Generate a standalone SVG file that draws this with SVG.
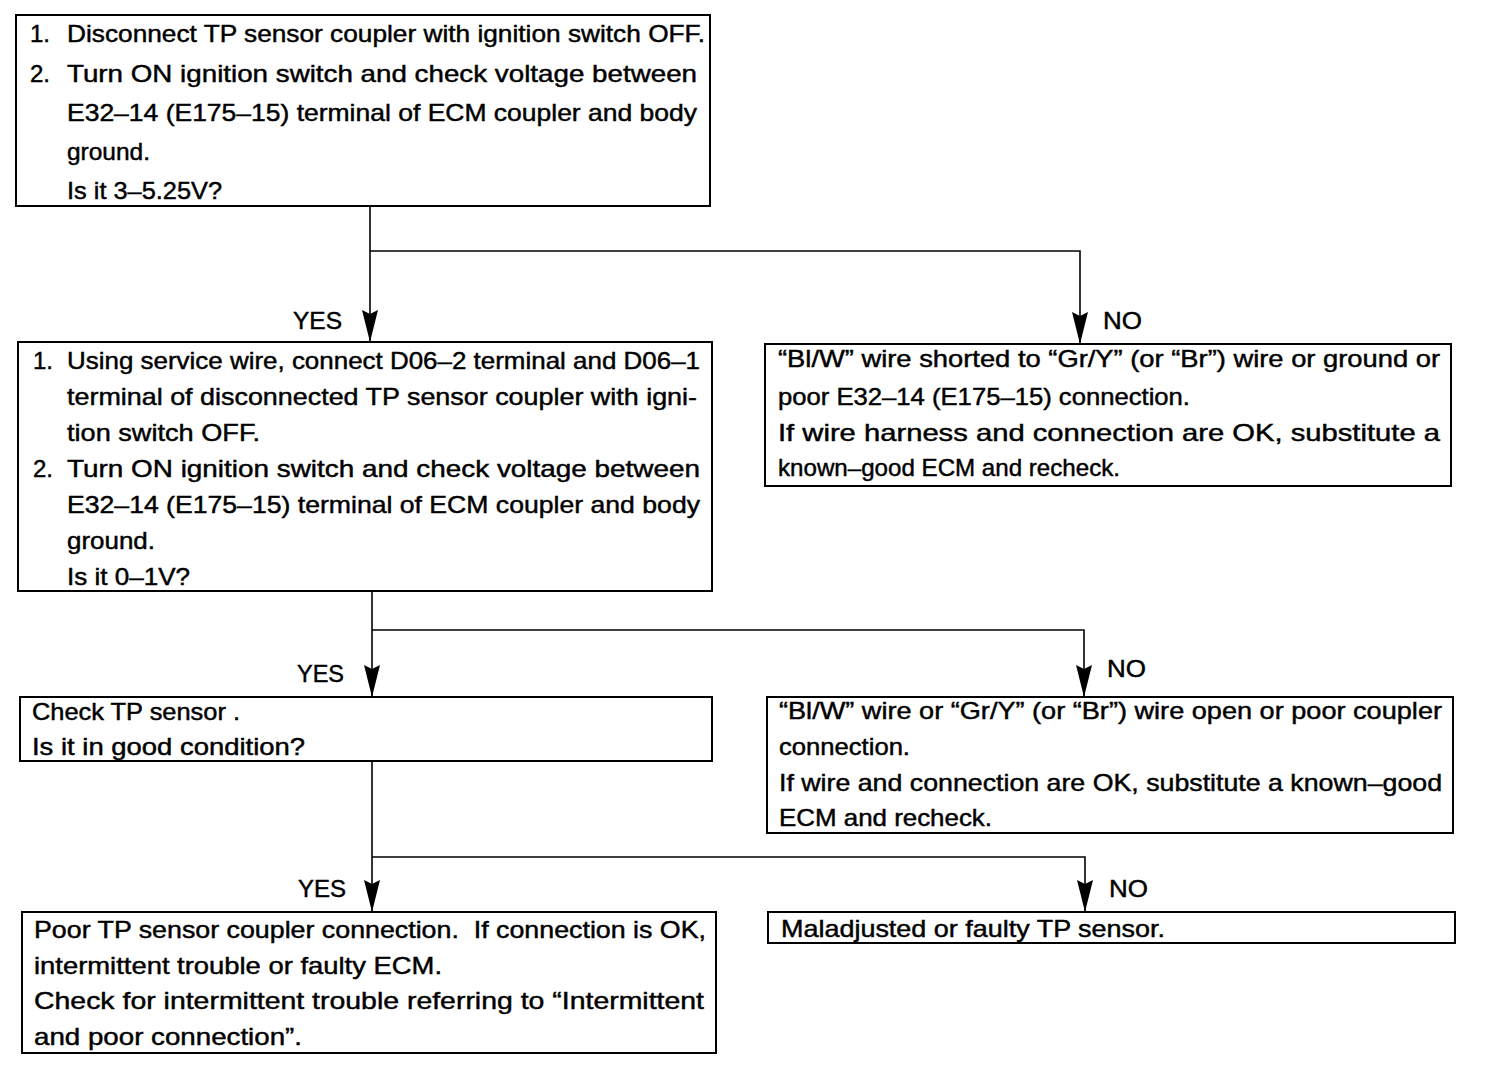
<svg xmlns="http://www.w3.org/2000/svg" width="1504" height="1070" viewBox="0 0 1504 1070">
<style>
rect.box{fill:#fff;stroke:#000;stroke-width:2}
text{font-family:"Liberation Sans",Arial,sans-serif;font-size:24px;fill:#000;stroke:#000;stroke-width:0.45}
.conn{fill:none;stroke:#000;stroke-width:1.6}
</style>
<defs>
<marker id="arr" viewBox="0 0 32 16" refX="32" refY="8" markerWidth="32" markerHeight="16" markerUnits="userSpaceOnUse" orient="auto">
<path d="M0,0 L32,8 L0,16 L4,8 Z" fill="#000"/>
</marker>
</defs>
<rect width="1504" height="1070" fill="#fff"/>

<g id="connectors">
<path class="conn" d="M370,206 V342" marker-end="url(#arr)"/>
<path class="conn" d="M370,251 H1080 V344" marker-end="url(#arr)"/>
<path class="conn" d="M372,591 V697" marker-end="url(#arr)"/>
<path class="conn" d="M372,630 H1084 V697" marker-end="url(#arr)"/>
<path class="conn" d="M372,761 V912" marker-end="url(#arr)"/>
<path class="conn" d="M372,857 H1085 V912" marker-end="url(#arr)"/>
<text x="293" y="329" textLength="49" lengthAdjust="spacingAndGlyphs">YES</text>
<text x="1103" y="329" textLength="39" lengthAdjust="spacingAndGlyphs">NO</text>
<text x="297" y="682" textLength="47" lengthAdjust="spacingAndGlyphs">YES</text>
<text x="1107" y="677" textLength="39" lengthAdjust="spacingAndGlyphs">NO</text>
<text x="298" y="897" textLength="48" lengthAdjust="spacingAndGlyphs">YES</text>
<text x="1109" y="897" textLength="39" lengthAdjust="spacingAndGlyphs">NO</text>
</g>

<g id="node1">
<rect class="box" x="16" y="15" width="694" height="191"/>
<text x="30" y="42">1.</text>
<text x="67" y="42" textLength="638" lengthAdjust="spacingAndGlyphs">Disconnect TP sensor coupler with ignition switch OFF.</text>
<text x="30" y="82">2.</text>
<text x="67" y="82" textLength="630" lengthAdjust="spacingAndGlyphs">Turn ON ignition switch and check voltage between</text>
<text x="67" y="121" textLength="630" lengthAdjust="spacingAndGlyphs">E32–14 (E175–15) terminal of ECM coupler and body</text>
<text x="67" y="160" textLength="83" lengthAdjust="spacingAndGlyphs">ground.</text>
<text x="67" y="199" textLength="155" lengthAdjust="spacingAndGlyphs">Is it 3–5.25V?</text>
</g>

<g id="node2">
<rect class="box" x="18" y="342" width="694" height="249"/>
<text x="33" y="369">1.</text>
<text x="67" y="369" textLength="633" lengthAdjust="spacingAndGlyphs">Using service wire, connect D06–2 terminal and D06–1</text>
<text x="67" y="405" textLength="630" lengthAdjust="spacingAndGlyphs">terminal of disconnected TP sensor coupler with igni-</text>
<text x="67" y="441" textLength="193" lengthAdjust="spacingAndGlyphs">tion switch OFF.</text>
<text x="33" y="477">2.</text>
<text x="67" y="477" textLength="633" lengthAdjust="spacingAndGlyphs">Turn ON ignition switch and check voltage between</text>
<text x="67" y="513" textLength="633" lengthAdjust="spacingAndGlyphs">E32–14 (E175–15) terminal of ECM coupler and body</text>
<text x="67" y="549" textLength="88" lengthAdjust="spacingAndGlyphs">ground.</text>
<text x="67" y="585" textLength="123" lengthAdjust="spacingAndGlyphs">Is it 0–1V?</text>
</g>

<g id="node3">
<rect class="box" x="765" y="344" width="686" height="142"/>
<text x="778" y="367" textLength="662" lengthAdjust="spacingAndGlyphs">“Bl/W” wire shorted to “Gr/Y” (or “Br”) wire or ground or</text>
<text x="778" y="405" textLength="412" lengthAdjust="spacingAndGlyphs">poor E32–14 (E175–15) connection.</text>
<text x="778" y="441" textLength="662" lengthAdjust="spacingAndGlyphs">If wire harness and connection are OK, substitute a</text>
<text x="778" y="476" textLength="342" lengthAdjust="spacingAndGlyphs">known–good ECM and recheck.</text>
</g>

<g id="node4">
<rect class="box" x="20" y="697" width="692" height="64"/>
<text x="32" y="720" textLength="208" lengthAdjust="spacingAndGlyphs">Check TP sensor .</text>
<text x="32" y="755" textLength="273" lengthAdjust="spacingAndGlyphs">Is it in good condition?</text>
</g>

<g id="node5">
<rect class="box" x="767" y="697" width="686" height="136"/>
<text x="779" y="719" textLength="663" lengthAdjust="spacingAndGlyphs">“Bl/W” wire or “Gr/Y” (or “Br”) wire open or poor coupler</text>
<text x="779" y="755" textLength="131" lengthAdjust="spacingAndGlyphs">connection.</text>
<text x="779" y="791" textLength="663" lengthAdjust="spacingAndGlyphs">If wire and connection are OK, substitute a known–good</text>
<text x="779" y="826" textLength="213" lengthAdjust="spacingAndGlyphs">ECM and recheck.</text>
</g>

<g id="node6">
<rect class="box" x="22" y="912" width="694" height="141"/>
<text x="34" y="938" textLength="672" lengthAdjust="spacingAndGlyphs" xml:space="preserve">Poor TP sensor coupler connection.  If connection is OK,</text>
<text x="34" y="974" textLength="408" lengthAdjust="spacingAndGlyphs">intermittent trouble or faulty ECM.</text>
<text x="34" y="1009" textLength="670" lengthAdjust="spacingAndGlyphs">Check for intermittent trouble referring to “Intermittent</text>
<text x="34" y="1045" textLength="268" lengthAdjust="spacingAndGlyphs">and poor connection”.</text>
</g>

<g id="node7">
<rect class="box" x="768" y="912" width="687" height="31"/>
<text x="781" y="937" textLength="384" lengthAdjust="spacingAndGlyphs">Maladjusted or faulty TP sensor.</text>
</g>
</svg>
